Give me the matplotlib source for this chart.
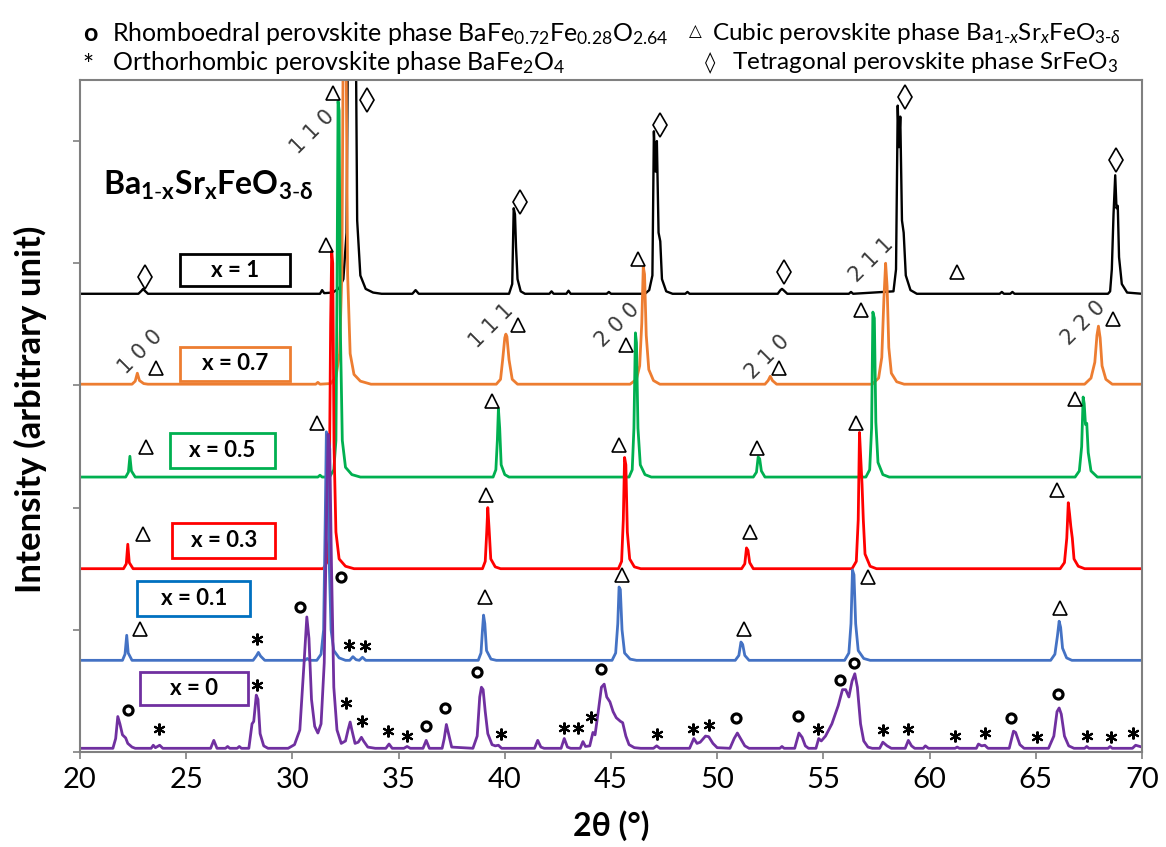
import matplotlib
matplotlib.use("Agg")
import matplotlib.pyplot as plt
from matplotlib.patches import Rectangle

plt.rcParams['font.family'] = ['Lato', 'DejaVu Sans']
plt.rcParams['mathtext.fontset'] = 'custom'
plt.rcParams['mathtext.rm'] = 'Lato'
plt.rcParams['mathtext.it'] = 'Lato:italic'
plt.rcParams['mathtext.bf'] = 'Lato:bold'

# ---- data (2theta in deg, intensity above each curve's baseline) ----
labels = ['x = 1', 'x = 0.7', 'x = 0.5', 'x = 0.3', 'x = 0.1', 'x = 0']
colors = ['#000000', '#ED7D31', '#00B050', '#FF0000', '#4472C4', '#7030A0']
box_colors = ['#000000', '#ED7D31', '#00B050', '#FF0000', '#0070C0', '#7030A0']
offsets = [3750, 3010, 2250, 1500, 750, 30]

x1_t = [20, 22.75, 22.9, 22.97, 23.05, 23.2, 31.3, 31.4, 31.5, 31.9, 32.2, 32.4, 32.55, 32.65, 32.75,
        32.85, 32.95, 33.05, 33.2, 33.45, 33.8, 34.2, 35.65, 35.8, 35.95, 40.2, 40.35, 40.42, 40.48,
        40.53, 40.6, 40.75, 40.95, 42.1, 42.2, 42.3, 42.9, 43.0, 43.1, 44.8, 44.9, 45.0, 46.6, 46.8,
        46.95, 47.02, 47.1, 47.16, 47.24, 47.32, 47.4, 47.6, 47.9, 48.5, 48.6, 48.7, 52.85, 52.98,
        53.05, 53.12, 53.3, 56.2, 56.3, 56.4, 58.3, 58.42, 58.5, 58.56, 58.62, 58.7, 58.78, 58.88,
        59.1, 59.4, 63.3, 63.4, 63.5, 63.8, 63.9, 64.0, 68.4, 68.5, 68.58, 68.66, 68.74, 68.8, 68.86,
        68.92, 69.05, 69.3, 70]
x1_i = [0, 0, 25, 40, 25, 0, 0, 30, 5, 10, 45, 120, 500, 3000, 3000,
        2800, 3000, 600, 150, 40, 10, 0, 0, 30, 0, 0, 80, 700, 650,
        380, 120, 20, 0, 0, 20, 0, 0, 25, 0, 0, 15, 0, 0, 30,
        150, 1330, 1000, 1250, 500, 430, 120, 20, 0, 0, 15, 0, 0, 30,
        40, 30, 0, 0, 15, 0, 20, 200, 1540, 1200, 1450, 600, 500, 150,
        30, 0, 0, 15, 0, 0, 15, 0, 0, 20, 200, 650, 970, 700, 720,
        300, 80, 10, 0]

x07_t = [20, 22.45, 22.6, 22.7, 22.8, 23.0, 23.2, 31.1, 31.2, 31.3, 31.8, 32.05, 32.22, 32.33, 32.4,
         32.52, 32.6, 32.72, 32.9, 33.2, 33.7, 39.6, 39.8, 39.9, 40.0, 40.05, 40.1, 40.2, 40.35,
         40.6, 45.9, 46.2, 46.35, 46.45, 46.52, 46.58, 46.66, 46.78, 47.0, 47.3, 52.25, 52.4, 52.5,
         52.6, 52.8, 57.3, 57.6, 57.75, 57.85, 57.93, 58.0, 58.08, 58.2, 58.45, 58.8, 67.3, 67.6,
         67.78, 67.88, 67.95, 68.03, 68.12, 68.3, 68.6, 70]
x07_i = [0, 0, 25, 90, 30, 5, 0, 0, 15, 0, 5, 60, 250, 900, 3000,
         3000, 900, 250, 80, 25, 0, 0, 40, 200, 380, 410, 390, 200, 40,
         0, 0, 40, 150, 500, 960, 900, 400, 120, 30, 0, 0, 30, 65,
         30, 0, 0, 50, 220, 700, 990, 800, 300, 90, 20, 0, 0, 50,
         180, 400, 475, 380, 150, 40, 0, 0]

x05_t = [20, 22.15, 22.28, 22.35, 22.42, 22.6, 31.2, 31.3, 31.4, 31.75, 31.95, 32.05, 32.1, 32.15,
         32.2, 32.26, 32.35, 32.5, 32.8, 33.2, 39.45, 39.58, 39.65, 39.7, 39.76, 39.83, 40.0, 40.2,
         45.85, 46.0, 46.08, 46.15, 46.2, 46.27, 46.38, 46.6, 46.9, 51.7, 51.85, 51.93, 52.0, 52.08,
         52.25, 57.0, 57.18, 57.27, 57.33, 57.4, 57.47, 57.57, 57.8, 58.1, 66.85, 67.05, 67.16,
         67.23, 67.28, 67.34, 67.4, 67.47, 67.6, 67.9, 70]
x05_i = [0, 0, 40, 170, 50, 0, 0, 15, 0, 0, 60, 300, 1500, 3075,
         3000, 1200, 300, 80, 20, 0, 0, 60, 300, 560, 400, 100, 20, 0,
         0, 60, 400, 1180, 1100, 400, 100, 20, 0, 0, 40, 165, 150, 50,
         0, 0, 60, 400, 1350, 1300, 450, 120, 20, 0, 0, 50, 250,
         655, 600, 430, 440, 200, 50, 0, 0]

x03_t = [20, 22.05, 22.18, 22.25, 22.32, 22.5, 31.45, 31.62, 31.72, 31.8, 31.85, 31.9, 31.96, 32.05,
         32.2, 32.5, 32.9, 38.95, 39.08, 39.15, 39.2, 39.26, 39.34, 39.55, 39.8, 45.35, 45.5, 45.58,
         45.64, 45.7, 45.77, 45.88, 46.1, 46.4, 51.15, 51.3, 51.38, 51.45, 51.53, 51.7, 56.35, 56.55,
         56.64, 56.7, 56.76, 56.82, 56.88, 56.96, 57.2, 57.5, 66.15, 66.35, 66.46, 66.53, 66.59,
         66.65, 66.72, 66.8, 67.0, 67.3, 70]
x03_i = [0, 0, 40, 200, 50, 0, 0, 50, 250, 2000, 2600, 2500, 1000, 300,
         80, 20, 0, 0, 60, 300, 500, 330, 80, 15, 0, 0, 60, 400,
         910, 850, 300, 80, 15, 0, 0, 40, 170, 150, 50, 0, 0, 60,
         400, 1115, 900, 690, 400, 120, 20, 0, 0, 50, 250, 540, 450,
         345, 250, 80, 20, 0, 0]

x01_t = [20, 22.0, 22.12, 22.2, 22.27, 22.45, 28.15, 28.3, 28.4, 28.5, 28.7, 30.6, 30.7, 30.8, 31.15,
         31.35, 31.47, 31.55, 31.6, 31.66, 31.72, 31.82, 31.95, 32.2, 32.5, 32.7, 32.85, 33.0, 33.15,
         33.3, 33.45, 38.75, 38.88, 38.95, 39.0, 39.06, 39.14, 39.35, 39.6, 45.05, 45.22, 45.32,
         45.38, 45.44, 45.52, 45.64, 45.9, 46.2, 50.85, 51.02, 51.12, 51.2, 51.3, 51.5, 56.0, 56.2,
         56.3, 56.37, 56.44, 56.52, 56.64, 56.9, 57.2, 65.7, 65.9, 66.02, 66.1, 66.17, 66.26, 66.45,
         66.7, 70]
x01_i = [0, 0, 50, 205, 60, 0, 0, 35, 65, 35, 0, 0, 15, 0, 0,
         50, 250, 1200, 1870, 1750, 900, 250, 80, 20, 0, 0, 30, 5, 0,
         25, 0, 0, 60, 250, 370, 300, 80, 10, 0, 0, 60, 300,
         600, 580, 250, 60, 10, 0, 0, 40, 150, 130, 40, 0, 0, 60,
         300, 740, 700, 300, 80, 15, 0, 0, 50, 200, 320, 270, 100, 20,
         0, 0]

x0_t = [20, 21.55, 21.68, 21.78, 21.88, 22.0, 22.15, 22.25, 22.45, 22.6, 23.35, 23.45, 23.55, 23.75,
        23.9, 26.15, 26.3, 26.45, 26.85, 26.95, 27.05, 27.4, 27.5, 27.6, 27.95, 28.1, 28.18, 28.3,
        28.38, 28.48, 28.65, 28.85, 29.8, 30.1, 30.35, 30.55, 30.68, 30.78, 30.9, 31.05, 31.2,
        31.35, 31.5, 31.6, 31.68, 31.76, 31.84, 31.95, 32.1, 32.3, 32.5, 32.62, 32.72, 32.8, 32.95,
        33.1, 33.25, 33.35, 33.55, 33.9, 34.4, 34.55, 34.7, 35.25, 35.4, 35.55, 36.15, 36.3, 36.45,
        37.05, 37.15, 37.25, 37.35, 37.5, 38.5, 38.7, 38.82, 38.9, 38.98, 39.08, 39.2, 39.4, 39.55,
        39.7, 39.85, 41.4, 41.55, 41.7, 41.85, 42.65, 42.8, 42.95, 43.1, 43.55, 43.68, 43.8, 44.0,
        44.15, 44.25, 44.4, 44.55, 44.68, 44.8, 44.95, 45.1, 45.25, 45.45, 45.55, 45.7, 45.85, 46.1,
        46.4, 47.0, 47.15, 47.3, 48.7, 48.9, 49.05, 49.2, 49.45, 49.6, 49.8, 50.0, 50.6, 50.8,
        50.95, 51.1, 51.3, 51.5, 52.95, 53.05, 53.15, 53.65, 53.85, 54.0, 54.15, 54.3, 54.65,
        54.78, 54.9, 55.1, 55.4, 55.7, 55.9, 56.05, 56.2, 56.35, 56.48, 56.6, 56.75, 56.9, 57.1,
        57.3, 57.65, 57.8, 58.0, 58.2, 58.85, 59.0, 59.15, 59.3, 59.7, 59.8, 59.95, 61.2, 61.3,
        61.4, 62.2, 62.3, 62.45, 62.6, 62.75, 63.75, 63.95, 64.05, 64.25, 64.45, 65.6, 65.85, 66.0,
        66.1, 66.2, 66.35, 66.55, 66.8, 67.3, 67.4, 67.5, 68.4, 68.5, 68.6, 69.55, 69.7, 70]
x0_i = [0, 0, 80, 260, 200, 110, 85, 40, 10, 0, 0, 25, 5, 25,
        0, 0, 65, 0, 0, 15, 0, 0, 15, 0, 0, 200, 220, 435,
        400, 120, 20, 0, 0, 30, 150, 700, 1075, 900, 400, 180, 125,
        200, 700, 1800, 2570, 2450, 1500, 500, 150, 40, 60, 150, 215, 150, 40,
        50, 90, 60, 10, 0, 0, 35, 0, 0, 15, 0, 0, 65, 0,
        0, 80, 195, 120, 10, 0, 100, 420, 500, 480, 300, 120, 30, 20,
        25, 0, 0, 65, 10, 0, 0, 80, 10, 0, 0, 55, 15, 20,
        130, 110, 300, 500, 525, 420, 380, 300, 250, 220, 210, 100, 30, 5,
        0, 0, 20, 0, 0, 80, 40, 50, 100, 95, 40, 5, 0, 80,
        125, 80, 20, 0, 0, 15, 0, 0, 125, 90, 20, 0, 0,
        80, 60, 100, 200, 350, 480, 480, 420, 550, 610, 500, 200, 60, 10,
        0, 0, 50, 20, 0, 0, 65, 20, 0, 0, 20, 0, 0, 10,
        0, 0, 35, 20, 25, 0, 0, 140, 130, 30, 0, 0, 100, 300,
        330, 280, 100, 20, 0, 0, 15, 0, 0, 15, 0, 0, 25, 10]

curves_t = [x1_t, x07_t, x05_t, x03_t, x01_t, x0_t]
curves_i = [x1_i, x07_i, x05_i, x03_i, x01_i, x0_i]

# phase markers (2theta, intensity on the plot scale)
tri_t = [61.28, 23.58, 40.64, 46.25, 52.9, 68.63, 31.92, 23.1, 39.42, 45.73, 51.86, 56.76, 66.85,
         22.97, 31.6, 39.1, 45.4, 51.53, 56.52, 66.0, 22.81, 31.17, 39.05, 45.5, 51.27, 57.12, 66.15]
tri_i = [3929, 3143, 3495, 4035, 3143, 3544, 5394, 2496, 2873, 3331, 2488, 3618, 2889,
         1784, 4150, 2103, 2513, 1800, 2693, 2144, 1007, 2693, 1269, 1450, 1007, 1432, 1179]
dia_t = [23.06, 33.5, 40.73, 47.33, 53.13, 58.83, 68.77]
dia_i = [3888, 5340, 4502, 5132, 3929, 5361, 4845]
circ_t = [22.26, 30.38, 32.28, 36.3, 37.2, 38.7, 44.55, 50.9, 53.81, 55.76, 56.46, 63.81, 66.05]
circ_i = [344, 1187, 1432, 213, 360, 655, 680, 278, 295, 589, 728, 278, 475]
ast_t = [23.73, 28.33, 28.33, 32.65, 33.4, 32.54, 33.26, 34.49, 35.4, 39.84, 42.77, 43.46, 44.06,
         47.17, 48.86, 49.6, 54.75, 57.8, 58.98, 61.19, 62.6, 65.08, 67.4, 68.56, 69.58]
ast_i = [188, 925, 548, 876, 868, 401, 254, 172, 131, 147, 196, 196, 286,
         147, 188, 221, 188, 180, 188, 131, 155, 123, 131, 123, 155]

hkl = ['1 1 0', '1 0 0', '1 1 1', '2 0 0', '2 1 0', '2 1 1', '2 2 0']
hkl_t = [30.93, 22.83, 39.37, 45.3, 52.37, 57.28, 67.27]
hkl_i = [5075, 3274, 3487, 3495, 3233, 4027, 3511]

fig = plt.figure(figsize=(11.66, 8.47), dpi=100)
ax = fig.add_axes([0.0686, 0.1122, 0.9108, 0.7934])

for t, i, off, c in zip(curves_t, curves_i, offsets, colors):
    lw = 1.7 if c == '#000000' else 2.0
    ax.plot(t, [v + off for v in i], color=c, lw=lw, solid_joinstyle='round')

ax.plot(tri_t, tri_i, '^', ms=10, mfc='none', mec='black', mew=1.2, ls='none')
ax.plot(dia_t, dia_i, 'd', ms=12, mfc='none', mec='black', mew=1.2, ls='none')
ax.plot(circ_t, circ_i, 'o', ms=6.5, mfc='none', mec='black', mew=2.3, ls='none')
ax.plot(ast_t, ast_i, marker=(6, 2, 0), ms=8.5, mec='black', mew=1.5, ls='none')

for s, t, i in zip(hkl, hkl_t, hkl_i):
    ax.text(t, i, s, rotation=45, fontsize=15, color='#3a3a3a', ha='center', va='center',
            family=['DejaVu Sans'])

# sample boxes (layout)
box_pos = [(24.71, 3810, 5.18, 265), (24.71, 3037, 5.18, 280), (24.24, 2325, 4.95, 285),
           (24.34, 1588, 4.85, 285), (22.69, 1113, 5.33, 285), (22.83, 385, 5.09, 270)]
for lab, bc, (bx, by, bw, bh) in zip(labels, box_colors, box_pos):
    ax.add_patch(Rectangle((bx, by), bw, bh, fill=True, fc='white', ec=bc, lw=2.0, zorder=3))
    ax.text(bx + bw / 2, by + bh / 2, lab, ha='center', va='center', fontsize=16,
            fontweight='bold', zorder=4)

ax.text(21.1, 4640, r'Ba$_{\mathbf{1\text{-}x}}$Sr$_{\mathbf{x}}$FeO$_{\mathbf{3\text{-}\delta}}$',
        fontsize=23, fontweight='bold', va='center', ha='left')

ax.set_xlim(20, 70)
ax.set_ylim(0, 5500)
ax.set_xticks(range(20, 71, 5))
ax.set_yticks(range(0, 5001, 1000))
ax.set_yticklabels([])
ax.tick_params(axis='x', labelsize=21, direction='out', length=5, width=1.2, color='#808080', pad=6)
ax.tick_params(axis='y', direction='out', length=5, width=1.2, color='#808080')
for sp in ax.spines.values():
    sp.set_color('#808080')
    sp.set_linewidth(1.5)
ax.set_xlabel('2θ (°)', fontsize=23, fontweight='bold', labelpad=12)
ax.set_ylabel('Intensity (arbitrary unit)', fontsize=25, fontweight='bold')
ax.yaxis.set_label_coords(-0.031, 0.51)

leg_fs = 18
fig.text(0.071, 0.961, 'o', fontsize=leg_fs, fontweight='bold', va='center')
fig.text(0.096, 0.961, r'Rhomboedral perovskite phase BaFe$_{0.72}$Fe$_{0.28}$O$_{2.64}$',
         fontsize=leg_fs, va='center')
fig.text(0.071, 0.922, '*', fontsize=19, va='center')
fig.text(0.096, 0.926, r'Orthorhombic perovskite phase BaFe$_2$O$_4$', fontsize=leg_fs, va='center')
fig.text(0.591, 0.963, '\u25b3', fontsize=12, va='center', family=['DejaVu Sans'])
fig.text(0.611, 0.961, r'Cubic perovskite phase Ba$_{1\text{-}x}$Sr$_x$FeO$_{3\text{-}\delta}$',
         fontsize=17.5, va='center')
fig.text(0.605, 0.926, '\u25ca', fontsize=15, va='center', family=['DejaVu Sans'])
fig.text(0.628, 0.926, r'Tetragonal perovskite phase SrFeO$_3$', fontsize=17.5, va='center')

fig.savefig('out.png', dpi=100)
